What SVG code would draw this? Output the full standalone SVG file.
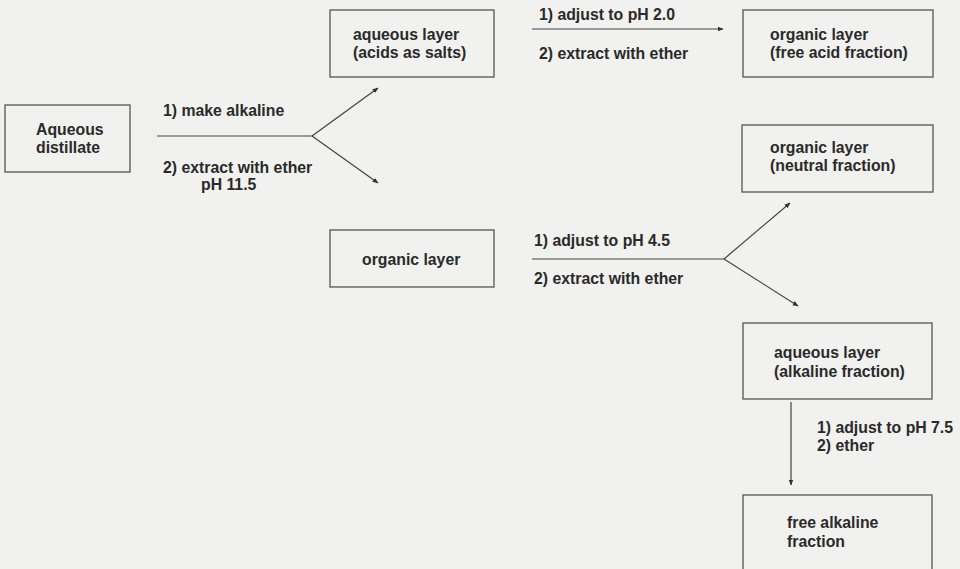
<svg xmlns="http://www.w3.org/2000/svg" width="960" height="569" viewBox="0 0 960 569">
<defs>
<style>
.bg{fill:#f1f1ef}
.box{fill:none;stroke:#555;stroke-width:1.3}
.t{font-family:"Liberation Sans",Arial,sans-serif;font-weight:bold;font-size:15.8px;fill:#2a2a2a}
.c{fill:none;stroke:#444;stroke-width:1.2}
</style>
<marker id="ah" viewBox="0 0 10 10" refX="9" refY="5" markerWidth="6" markerHeight="6" orient="auto" markerUnits="userSpaceOnUse">
<path d="M0,1 L10,5 L0,9 Z" fill="#333"/>
</marker>
</defs>
<rect class="bg" x="0" y="0" width="960" height="569"/>

<g id="connectors">
<path class="c" d="M157,136 H312"/>
<path class="c" d="M312,136 L378,88" marker-end="url(#ah)"/>
<path class="c" d="M312,136 L378,183" marker-end="url(#ah)"/>
<path class="c" d="M532,29 H723" marker-end="url(#ah)"/>
<path class="c" d="M532,259 H724"/>
<path class="c" d="M724,259 L790,203" marker-end="url(#ah)"/>
<path class="c" d="M724,259 L798,306" marker-end="url(#ah)"/>
<path class="c" d="M791,402 V485" marker-end="url(#ah)"/>
<text class="t" x="163" y="116">1) make alkaline</text>
<text class="t" x="163" y="173">2) extract with ether</text>
<text class="t" x="201" y="190">pH 11.5</text>
<text class="t" x="539" y="20">1) adjust to pH 2.0</text>
<text class="t" x="539" y="59">2) extract with ether</text>
<text class="t" x="534" y="246">1) adjust to pH 4.5</text>
<text class="t" x="534" y="284">2) extract with ether</text>
<text class="t" x="817" y="433">1) adjust to pH 7.5</text>
<text class="t" x="817" y="451">2) ether</text>
</g>

<g id="aqueous-distillate">
<rect class="box" x="5" y="105" width="125" height="67"/>
<text class="t" x="36" y="135">Aqueous</text>
<text class="t" x="36" y="153">distillate</text>
</g>

<g id="aqueous-layer-salts">
<rect class="box" x="330" y="10" width="164" height="67"/>
<text class="t" x="353" y="40">aqueous layer</text>
<text class="t" x="353" y="58">(acids as salts)</text>
</g>

<g id="organic-layer">
<rect class="box" x="330" y="230" width="164" height="57"/>
<text class="t" x="362" y="265">organic layer</text>
</g>

<g id="free-acid">
<rect class="box" x="743" y="10" width="190" height="67"/>
<text class="t" x="770" y="40">organic layer</text>
<text class="t" x="770" y="58">(free acid fraction)</text>
</g>

<g id="neutral">
<rect class="box" x="742" y="125" width="191" height="67"/>
<text class="t" x="770" y="153">organic layer</text>
<text class="t" x="770" y="171">(neutral fraction)</text>
</g>

<g id="alkaline">
<rect class="box" x="743" y="323" width="189" height="76"/>
<text class="t" x="774" y="358">aqueous layer</text>
<text class="t" x="774" y="377">(alkaline fraction)</text>
</g>

<g id="free-alkaline">
<rect class="box" x="743" y="495" width="189" height="80"/>
<text class="t" x="787" y="528">free alkaline</text>
<text class="t" x="787" y="547">fraction</text>
</g>
</svg>
